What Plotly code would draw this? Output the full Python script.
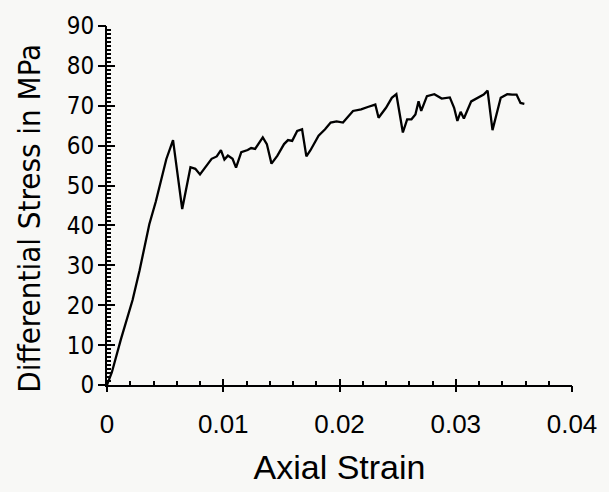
import plotly.graph_objects as go

strain = [0.0, 0.00042, 0.0012, 0.0022, 0.0028, 0.00364, 0.0042, 0.0051, 0.00568,
          0.00647, 0.00718, 0.0076, 0.0080, 0.00845, 0.0090, 0.00944, 0.0098, 0.0101, 0.0104,
          0.0108, 0.0111, 0.01155, 0.0121, 0.0124, 0.01274, 0.0134, 0.01375, 0.01415, 0.01466,
          0.01523, 0.01557, 0.01593, 0.01636, 0.01678, 0.01715, 0.01749, 0.0182, 0.01876, 0.01924,
          0.01975, 0.0203, 0.02116, 0.02186, 0.02243, 0.02308, 0.02336, 0.0240, 0.0245, 0.02489,
          0.02545, 0.02582, 0.02619, 0.02653, 0.0268, 0.02703, 0.02752, 0.02816, 0.02879, 0.02949,
          0.02986, 0.03014, 0.03042, 0.0307, 0.03133, 0.03195, 0.0324, 0.03274, 0.03316, 0.03387,
          0.03443, 0.03486, 0.03523, 0.03557, 0.0359]
stress = [0.0, 3.2, 11.5, 21.3, 28.7, 40.3, 46.0, 56.6, 61.4,
          44.1, 54.6, 54.2, 52.8, 54.6, 56.7, 57.3, 58.9, 56.5, 57.5,
          56.7, 54.5, 58.4, 58.9, 59.4, 59.2, 62.1, 60.4, 55.5, 57.5,
          60.4, 61.4, 61.2, 63.7, 64.1, 57.3, 58.8, 62.5, 64.1, 65.8,
          66.1, 65.8, 68.7, 69.1, 69.7, 70.3, 67.0, 69.5, 72.0, 72.9,
          63.3, 66.6, 66.6, 67.8, 71.1, 68.7, 72.4, 72.9, 71.8, 72.1,
          69.5, 66.2, 68.5, 66.8, 71.1, 72.1, 72.8, 73.8, 63.9, 72.0,
          72.9, 72.8, 72.8, 70.7, 70.5]

x_ticks = [0, 0.01, 0.02, 0.03, 0.04]
x_labels = ["0", "0.01", "0.02", "0.03", "0.04"]
y_ticks = [0, 10, 20, 30, 40, 50, 60, 70, 80, 90]

bg = "#f8f8f6"
fig = go.Figure()
fig.add_trace(go.Scatter(x=strain, y=stress, mode="lines",
                         line=dict(color="black", width=2.3), showlegend=False))
fig.add_trace(go.Scatter(x=[0], y=[0], xaxis="x2", yaxis="y2", mode="markers",
                         marker=dict(opacity=0), showlegend=False, hoverinfo="skip"))

fig.update_layout(
    width=609, height=492,
    margin=dict(l=107, r=29, t=22, b=106),
    paper_bgcolor=bg, plot_bgcolor=bg,
    xaxis=dict(range=[0, 0.04], tickvals=x_ticks, ticktext=x_labels,
               showgrid=False, zeroline=False, showline=True, linecolor="black", linewidth=2,
               ticks="inside", ticklen=6, tickwidth=2, tickcolor="black",
               minor=dict(dtick=0.002, ticks="inside", ticklen=4, tickwidth=1.5, tickcolor="black"),
               tickfont=dict(family="Liberation Sans", size=26, color="black"),
               ticklabelstandoff=15,
               title=dict(text="Axial Strain", font=dict(family="Liberation Sans", size=34, color="black"),
                          standoff=17)),
    yaxis=dict(range=[0, 90], tickvals=y_ticks,
               showgrid=False, zeroline=False, showline=True, linecolor="black", linewidth=2,
               ticks="inside", ticklen=8, tickwidth=2, tickcolor="black",
               minor=dict(dtick=1, ticks="inside", ticklen=4, tickwidth=1.5, tickcolor="black"),
               tickfont=dict(family="DejaVu Sans Condensed", size=24, color="black"),
               ticklabelstandoff=6),
    xaxis2=dict(range=[0, 0.04], overlaying="x", tickvals=x_ticks, showticklabels=False,
                showgrid=False, zeroline=False, showline=False,
                ticks="outside", ticklen=6, tickwidth=2, tickcolor="black"),
    yaxis2=dict(range=[0, 90], overlaying="y", tickvals=y_ticks, showticklabels=False,
                showgrid=False, zeroline=False, showline=False,
                ticks="outside", ticklen=8, tickwidth=2, tickcolor="black"),
    annotations=[dict(text="Differential Stress in MPa", textangle=-90,
                      xref="paper", yref="paper", x=-0.167, y=0.464,
                      xanchor="center", yanchor="middle", showarrow=False,
                      font=dict(family="DejaVu Sans Condensed", size=31, color="black"))],
)

fig.write_html("out.html")
